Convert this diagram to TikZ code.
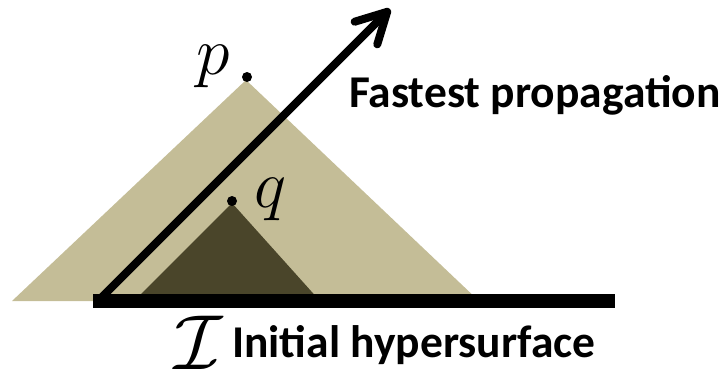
\RequirePackage{fix-cm}
\documentclass[tikz,border=0pt]{standalone}
\usepackage{fontspec}
\setmainfont{Carlito}
\usetikzlibrary{arrows.meta}
\definecolor{tanlight}{HTML}{C4BD97}
\definecolor{tandark}{HTML}{4A452A}
\begin{document}
\begin{tikzpicture}[x=1pt,y=-1pt,
    dot/.style={circle,fill=black,inner sep=0pt,minimum size=10pt},
    mathlbl/.style={font=\fontsize{68}{80}\selectfont,inner sep=0pt,anchor=base},
    txt/.style={font=\fontsize{45.5}{54}\selectfont\bfseries,inner sep=0pt,anchor=base west}]
    \useasboundingbox (0,0) rectangle (727,373);
    % cones
    \coordinate (pL) at (12,301);
    \coordinate (pA) at (246,80);
    \coordinate (pR) at (479,301);
    \coordinate (qL) at (134,301);
    \coordinate (qA) at (232,203);
    \coordinate (qR) at (320,301);
    \fill[tanlight] (pL) -- (pA) -- (pR) -- cycle;
    \fill[tandark] (qL) -- (qA) -- (qR) -- cycle;
    % fastest signal
    \coordinate (start) at (100,299);
    \coordinate (tip) at (390,9);
    \draw[line width=8pt,-{Straight Barb[length=30pt,width=32pt,round]}] (start) -- (tip);
    % initial surface
    \coordinate (barL) at (93,301);
    \coordinate (barR) at (615,301);
    \draw[line width=14pt] (barL) -- (barR);
    % points
    \node[dot] (p) at (247,77) {};
    \node[dot] (q) at (232,201) {};
    \node[mathlbl] (plbl) at (213,74) {$p$};
    \node[mathlbl] (qlbl) at (270,207) {$q$};
    \node[mathlbl,anchor=base west,font=\fontsize{78}{90}\selectfont] (Ilbl) at (174,369) {$\mathcal{I}$};
    \node[txt] (fast) at (349,107) {Fastest propagation};
    \node[txt] (init) at (232,357) {Initial hypersurface};
\end{tikzpicture}
\end{document}
